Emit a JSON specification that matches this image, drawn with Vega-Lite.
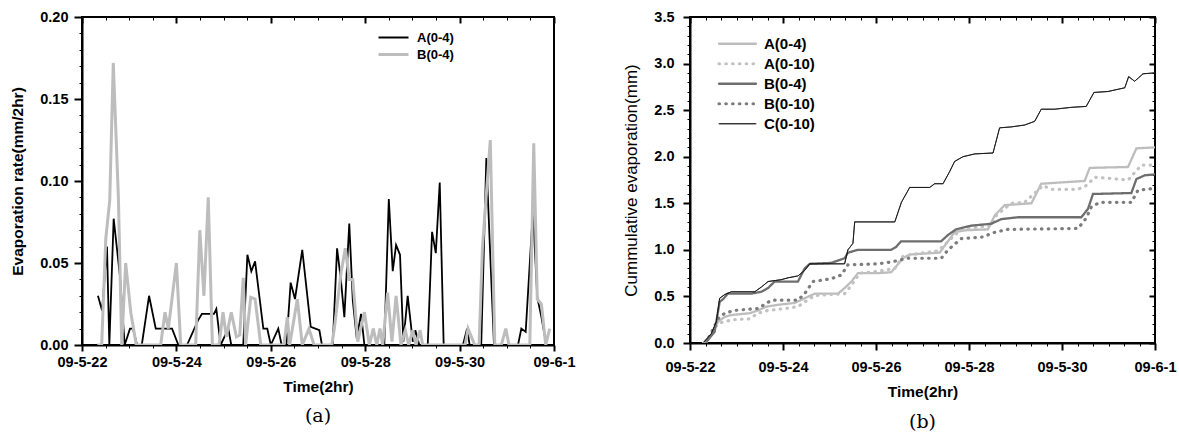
{
  "$schema": "https://vega.github.io/schema/vega-lite/v6.json",
  "background": "white",
  "padding": {"left": 9, "top": 8, "right": 0, "bottom": 0},
  "spacing": 45,
  "resolve": {"scale": {"color": "independent", "strokeWidth": "independent", "strokeDash": "independent", "x": "independent", "y": "independent"}, "legend": {"color": "independent", "strokeWidth": "independent", "strokeDash": "independent"}},
  "datasets": {
    "rate": [
      {"s":"A(0-4)","t":8.1,"v":0.030},{"s":"A(0-4)","t":10.2,"v":0.021},{"s":"A(0-4)","t":12.7,"v":0.060},{"s":"A(0-4)","t":13.9,"v":0},{"s":"A(0-4)","t":16.1,"v":0.077},{"s":"A(0-4)","t":19.3,"v":0.042},{"s":"A(0-4)","t":21.7,"v":0},{"s":"A(0-4)","t":24.4,"v":0.01},{"s":"A(0-4)","t":25.9,"v":0.01},{"s":"A(0-4)","t":28.0,"v":0},{"s":"A(0-4)","t":30.4,"v":0},{"s":"A(0-4)","t":34.1,"v":0.03},{"s":"A(0-4)","t":37.5,"v":0.01},{"s":"A(0-4)","t":45.8,"v":0.01},{"s":"A(0-4)","t":49.0,"v":0},{"s":"A(0-4)","t":53.4,"v":0},{"s":"A(0-4)","t":59.0,"v":0.015},{"s":"A(0-4)","t":61.0,"v":0.019},{"s":"A(0-4)","t":67.1,"v":0.019},{"s":"A(0-4)","t":68.3,"v":0.022},{"s":"A(0-4)","t":70.5,"v":0},{"s":"A(0-4)","t":74.4,"v":0.01},{"s":"A(0-4)","t":75.9,"v":0},{"s":"A(0-4)","t":82.0,"v":0},{"s":"A(0-4)","t":84.1,"v":0.055},{"s":"A(0-4)","t":86.1,"v":0.045},{"s":"A(0-4)","t":88.0,"v":0.051},{"s":"A(0-4)","t":92.2,"v":0.01},{"s":"A(0-4)","t":94.2,"v":0.01},{"s":"A(0-4)","t":96.0,"v":0},{"s":"A(0-4)","t":99.8,"v":0.01},{"s":"A(0-4)","t":101.5,"v":0},{"s":"A(0-4)","t":103.9,"v":0},{"s":"A(0-4)","t":106.1,"v":0.038},{"s":"A(0-4)","t":108.3,"v":0.028},{"s":"A(0-4)","t":112.0,"v":0.058},{"s":"A(0-4)","t":116.3,"v":0.011},{"s":"A(0-4)","t":120.7,"v":0.009},{"s":"A(0-4)","t":122.0,"v":0},{"s":"A(0-4)","t":127.5,"v":0},{"s":"A(0-4)","t":129.7,"v":0.059},{"s":"A(0-4)","t":131.7,"v":0.039},{"s":"A(0-4)","t":133.4,"v":0.017},{"s":"A(0-4)","t":135.9,"v":0.074},{"s":"A(0-4)","t":137.7,"v":0.027},{"s":"A(0-4)","t":139.7,"v":0.004},{"s":"A(0-4)","t":141.9,"v":0.019},{"s":"A(0-4)","t":143.6,"v":0},{"s":"A(0-4)","t":153.7,"v":0},{"s":"A(0-4)","t":156.0,"v":0.089},{"s":"A(0-4)","t":158.0,"v":0.045},{"s":"A(0-4)","t":159.7,"v":0.061},{"s":"A(0-4)","t":161.7,"v":0.055},{"s":"A(0-4)","t":163.4,"v":0.002},{"s":"A(0-4)","t":165.6,"v":0.03},{"s":"A(0-4)","t":168.2,"v":0.002},{"s":"A(0-4)","t":169.5,"v":0.009},{"s":"A(0-4)","t":171.5,"v":0},{"s":"A(0-4)","t":175.8,"v":0},{"s":"A(0-4)","t":178.0,"v":0.069},{"s":"A(0-4)","t":179.9,"v":0.056},{"s":"A(0-4)","t":181.9,"v":0.099},{"s":"A(0-4)","t":183.9,"v":0},{"s":"A(0-4)","t":193.7,"v":0},{"s":"A(0-4)","t":195.8,"v":0.01},{"s":"A(0-4)","t":197.1,"v":0},{"s":"A(0-4)","t":203.0,"v":0},{"s":"A(0-4)","t":205.6,"v":0.114},{"s":"A(0-4)","t":207.3,"v":0.063},{"s":"A(0-4)","t":209.5,"v":0},{"s":"A(0-4)","t":221.7,"v":0},{"s":"A(0-4)","t":223.4,"v":0.01},{"s":"A(0-4)","t":225.6,"v":0.008},{"s":"A(0-4)","t":229.3,"v":0.082},{"s":"A(0-4)","t":231.5,"v":0.029},{"s":"A(0-4)","t":233.6,"v":0.017},{"s":"A(0-4)","t":236.1,"v":0},
      {"s":"B(0-4)","t":7.8,"v":0},{"s":"B(0-4)","t":10.0,"v":0},{"s":"B(0-4)","t":12.1,"v":0.065},{"s":"B(0-4)","t":14.1,"v":0.088},{"s":"B(0-4)","t":15.9,"v":0.172},{"s":"B(0-4)","t":18.5,"v":0.09},{"s":"B(0-4)","t":20.2,"v":0},{"s":"B(0-4)","t":22.2,"v":0.05},{"s":"B(0-4)","t":24.8,"v":0.02},{"s":"B(0-4)","t":27.6,"v":0},{"s":"B(0-4)","t":40.0,"v":0},{"s":"B(0-4)","t":42.2,"v":0.02},{"s":"B(0-4)","t":43.9,"v":0.01},{"s":"B(0-4)","t":48.0,"v":0.05},{"s":"B(0-4)","t":50.2,"v":0},{"s":"B(0-4)","t":57.8,"v":0},{"s":"B(0-4)","t":59.9,"v":0.07},{"s":"B(0-4)","t":62.0,"v":0.03},{"s":"B(0-4)","t":64.2,"v":0.09},{"s":"B(0-4)","t":66.3,"v":0},{"s":"B(0-4)","t":69.7,"v":0},{"s":"B(0-4)","t":71.7,"v":0.02},{"s":"B(0-4)","t":73.4,"v":0.005},{"s":"B(0-4)","t":75.9,"v":0.02},{"s":"B(0-4)","t":78.5,"v":0.005},{"s":"B(0-4)","t":80.2,"v":0.006},{"s":"B(0-4)","t":82.0,"v":0.041},{"s":"B(0-4)","t":83.2,"v":0},{"s":"B(0-4)","t":85.8,"v":0.029},{"s":"B(0-4)","t":88.0,"v":0.028},{"s":"B(0-4)","t":90.9,"v":0},{"s":"B(0-4)","t":102.7,"v":0},{"s":"B(0-4)","t":104.4,"v":0.017},{"s":"B(0-4)","t":105.6,"v":0},{"s":"B(0-4)","t":109.5,"v":0.028},{"s":"B(0-4)","t":112.0,"v":0},{"s":"B(0-4)","t":115.4,"v":0.01},{"s":"B(0-4)","t":118.0,"v":0},{"s":"B(0-4)","t":127.0,"v":0},{"s":"B(0-4)","t":128.3,"v":0.01},{"s":"B(0-4)","t":131.7,"v":0.044},{"s":"B(0-4)","t":133.9,"v":0.059},{"s":"B(0-4)","t":135.9,"v":0.04},{"s":"B(0-4)","t":137.7,"v":0.04},{"s":"B(0-4)","t":140.2,"v":0.002},{"s":"B(0-4)","t":143.6,"v":0.02},{"s":"B(0-4)","t":146.1,"v":0},{"s":"B(0-4)","t":148.1,"v":0.01},{"s":"B(0-4)","t":149.9,"v":0},{"s":"B(0-4)","t":151.5,"v":0.01},{"s":"B(0-4)","t":152.9,"v":0},{"s":"B(0-4)","t":155.4,"v":0.032},{"s":"B(0-4)","t":157.6,"v":0.002},{"s":"B(0-4)","t":159.7,"v":0.03},{"s":"B(0-4)","t":162.2,"v":0},{"s":"B(0-4)","t":164.4,"v":0.009},{"s":"B(0-4)","t":166.1,"v":0},{"s":"B(0-4)","t":168.2,"v":0.009},{"s":"B(0-4)","t":169.8,"v":0},{"s":"B(0-4)","t":171.9,"v":0.009},{"s":"B(0-4)","t":173.2,"v":0},{"s":"B(0-4)","t":194.8,"v":0},{"s":"B(0-4)","t":196.3,"v":0.01},{"s":"B(0-4)","t":199.7,"v":0},{"s":"B(0-4)","t":201.9,"v":0},{"s":"B(0-4)","t":203.6,"v":0.059},{"s":"B(0-4)","t":207.6,"v":0.125},{"s":"B(0-4)","t":209.9,"v":0},{"s":"B(0-4)","t":213.2,"v":0},{"s":"B(0-4)","t":215.5,"v":0.01},{"s":"B(0-4)","t":217.1,"v":0},{"s":"B(0-4)","t":227.7,"v":0},{"s":"B(0-4)","t":229.7,"v":0.123},{"s":"B(0-4)","t":231.5,"v":0.028},{"s":"B(0-4)","t":233.6,"v":0.025},{"s":"B(0-4)","t":235.8,"v":0},{"s":"B(0-4)","t":237.8,"v":0.01}
    ],
    "cum": [
      {"s":"A(0-4)","t":6.7,"v":0},{"s":"A(0-4)","t":11.0,"v":0.09},{"s":"A(0-4)","t":14.5,"v":0.23},{"s":"A(0-4)","t":17.9,"v":0.28},{"s":"A(0-4)","t":21.3,"v":0.30},{"s":"A(0-4)","t":30.8,"v":0.32},{"s":"A(0-4)","t":35.1,"v":0.35},{"s":"A(0-4)","t":39.4,"v":0.39},{"s":"A(0-4)","t":45.4,"v":0.41},{"s":"A(0-4)","t":54.0,"v":0.43},{"s":"A(0-4)","t":59.2,"v":0.48},{"s":"A(0-4)","t":64.4,"v":0.53},{"s":"A(0-4)","t":76.4,"v":0.53},{"s":"A(0-4)","t":79.8,"v":0.59},{"s":"A(0-4)","t":83.3,"v":0.66},{"s":"A(0-4)","t":86.7,"v":0.75},{"s":"A(0-4)","t":97.0,"v":0.75},{"s":"A(0-4)","t":103.9,"v":0.76},{"s":"A(0-4)","t":109.9,"v":0.91},{"s":"A(0-4)","t":113.4,"v":0.95},{"s":"A(0-4)","t":128.9,"v":0.97},{"s":"A(0-4)","t":132.3,"v":1.07},{"s":"A(0-4)","t":136.6,"v":1.19},{"s":"A(0-4)","t":141.8,"v":1.21},{"s":"A(0-4)","t":153.8,"v":1.22},{"s":"A(0-4)","t":157.3,"v":1.37},{"s":"A(0-4)","t":162.4,"v":1.48},{"s":"A(0-4)","t":176.2,"v":1.50},{"s":"A(0-4)","t":181.3,"v":1.71},{"s":"A(0-4)","t":203.7,"v":1.74},{"s":"A(0-4)","t":206.3,"v":1.88},{"s":"A(0-4)","t":226.1,"v":1.89},{"s":"A(0-4)","t":230.4,"v":2.09},{"s":"A(0-4)","t":239.8,"v":2.10},
      {"s":"A(0-10)","t":7.6,"v":0},{"s":"A(0-10)","t":14.5,"v":0.21},{"s":"A(0-10)","t":17.9,"v":0.23},{"s":"A(0-10)","t":22.2,"v":0.25},{"s":"A(0-10)","t":30.8,"v":0.26},{"s":"A(0-10)","t":35.1,"v":0.32},{"s":"A(0-10)","t":40.3,"v":0.35},{"s":"A(0-10)","t":48.9,"v":0.37},{"s":"A(0-10)","t":55.7,"v":0.39},{"s":"A(0-10)","t":59.2,"v":0.44},{"s":"A(0-10)","t":64.4,"v":0.51},{"s":"A(0-10)","t":79.8,"v":0.53},{"s":"A(0-10)","t":83.3,"v":0.62},{"s":"A(0-10)","t":87.6,"v":0.75},{"s":"A(0-10)","t":93.6,"v":0.76},{"s":"A(0-10)","t":105.7,"v":0.80},{"s":"A(0-10)","t":109.9,"v":0.93},{"s":"A(0-10)","t":117.7,"v":0.96},{"s":"A(0-10)","t":128.0,"v":0.99},{"s":"A(0-10)","t":133.2,"v":1.09},{"s":"A(0-10)","t":138.3,"v":1.19},{"s":"A(0-10)","t":143.5,"v":1.23},{"s":"A(0-10)","t":155.5,"v":1.26},{"s":"A(0-10)","t":158.1,"v":1.37},{"s":"A(0-10)","t":165.8,"v":1.50},{"s":"A(0-10)","t":172.7,"v":1.51},{"s":"A(0-10)","t":182.2,"v":1.69},{"s":"A(0-10)","t":186.5,"v":1.65},{"s":"A(0-10)","t":200.3,"v":1.65},{"s":"A(0-10)","t":204.5,"v":1.69},{"s":"A(0-10)","t":208.9,"v":1.78},{"s":"A(0-10)","t":226.1,"v":1.75},{"s":"A(0-10)","t":230.4,"v":1.85},{"s":"A(0-10)","t":233.0,"v":1.91},{"s":"A(0-10)","t":239.8,"v":1.91},
      {"s":"B(0-4)","t":8.4,"v":0.01},{"s":"B(0-4)","t":12.7,"v":0.12},{"s":"B(0-4)","t":15.3,"v":0.44},{"s":"B(0-4)","t":17.5,"v":0.48},{"s":"B(0-4)","t":19.6,"v":0.53},{"s":"B(0-4)","t":31.6,"v":0.53},{"s":"B(0-4)","t":36.8,"v":0.55},{"s":"B(0-4)","t":40.3,"v":0.59},{"s":"B(0-4)","t":43.7,"v":0.66},{"s":"B(0-4)","t":55.7,"v":0.66},{"s":"B(0-4)","t":59.2,"v":0.80},{"s":"B(0-4)","t":61.8,"v":0.85},{"s":"B(0-4)","t":72.9,"v":0.86},{"s":"B(0-4)","t":79.8,"v":0.91},{"s":"B(0-4)","t":81.5,"v":0.97},{"s":"B(0-4)","t":86.7,"v":1.0},{"s":"B(0-4)","t":103.7,"v":1.0},{"s":"B(0-4)","t":106.3,"v":1.03},{"s":"B(0-4)","t":108.9,"v":1.09},{"s":"B(0-4)","t":129.5,"v":1.09},{"s":"B(0-4)","t":133.2,"v":1.16},{"s":"B(0-4)","t":137.3,"v":1.22},{"s":"B(0-4)","t":145.2,"v":1.26},{"s":"B(0-4)","t":155.5,"v":1.28},{"s":"B(0-4)","t":160.7,"v":1.33},{"s":"B(0-4)","t":169.3,"v":1.35},{"s":"B(0-4)","t":202.0,"v":1.35},{"s":"B(0-4)","t":205.4,"v":1.44},{"s":"B(0-4)","t":208.0,"v":1.60},{"s":"B(0-4)","t":227.8,"v":1.61},{"s":"B(0-4)","t":230.4,"v":1.76},{"s":"B(0-4)","t":234.7,"v":1.80},{"s":"B(0-4)","t":239.8,"v":1.81},
      {"s":"B(0-10)","t":8.4,"v":0},{"s":"B(0-10)","t":14.5,"v":0.26},{"s":"B(0-10)","t":17.9,"v":0.32},{"s":"B(0-10)","t":23.1,"v":0.35},{"s":"B(0-10)","t":35.1,"v":0.37},{"s":"B(0-10)","t":42.0,"v":0.46},{"s":"B(0-10)","t":55.7,"v":0.46},{"s":"B(0-10)","t":59.2,"v":0.53},{"s":"B(0-10)","t":63.5,"v":0.66},{"s":"B(0-10)","t":72.9,"v":0.69},{"s":"B(0-10)","t":78.1,"v":0.73},{"s":"B(0-10)","t":81.5,"v":0.84},{"s":"B(0-10)","t":97.0,"v":0.85},{"s":"B(0-10)","t":103.9,"v":0.87},{"s":"B(0-10)","t":112.5,"v":0.91},{"s":"B(0-10)","t":129.7,"v":0.91},{"s":"B(0-10)","t":133.2,"v":1.0},{"s":"B(0-10)","t":140.0,"v":1.12},{"s":"B(0-10)","t":152.1,"v":1.14},{"s":"B(0-10)","t":155.5,"v":1.18},{"s":"B(0-10)","t":164.1,"v":1.22},{"s":"B(0-10)","t":200.3,"v":1.23},{"s":"B(0-10)","t":204.5,"v":1.34},{"s":"B(0-10)","t":207.1,"v":1.46},{"s":"B(0-10)","t":211.5,"v":1.51},{"s":"B(0-10)","t":227.8,"v":1.51},{"s":"B(0-10)","t":231.2,"v":1.64},{"s":"B(0-10)","t":239.8,"v":1.66},
      {"s":"C(0-10)","t":7.2,"v":0.01},{"s":"C(0-10)","t":11.0,"v":0.10},{"s":"C(0-10)","t":13.6,"v":0.23},{"s":"C(0-10)","t":15.3,"v":0.48},{"s":"C(0-10)","t":17.9,"v":0.52},{"s":"C(0-10)","t":21.3,"v":0.55},{"s":"C(0-10)","t":33.4,"v":0.55},{"s":"C(0-10)","t":36.8,"v":0.60},{"s":"C(0-10)","t":40.3,"v":0.66},{"s":"C(0-10)","t":47.1,"v":0.68},{"s":"C(0-10)","t":50.6,"v":0.70},{"s":"C(0-10)","t":55.7,"v":0.72},{"s":"C(0-10)","t":59.2,"v":0.78},{"s":"C(0-10)","t":61.8,"v":0.85},{"s":"C(0-10)","t":79.8,"v":0.85},{"s":"C(0-10)","t":81.5,"v":1.0},{"s":"C(0-10)","t":84.1,"v":1.07},{"s":"C(0-10)","t":85.0,"v":1.30},{"s":"C(0-10)","t":105.7,"v":1.30},{"s":"C(0-10)","t":109.1,"v":1.51},{"s":"C(0-10)","t":113.4,"v":1.67},{"s":"C(0-10)","t":123.7,"v":1.67},{"s":"C(0-10)","t":126.3,"v":1.71},{"s":"C(0-10)","t":130.6,"v":1.71},{"s":"C(0-10)","t":134.0,"v":1.84},{"s":"C(0-10)","t":136.6,"v":1.95},{"s":"C(0-10)","t":140.9,"v":2.0},{"s":"C(0-10)","t":146.9,"v":2.03},{"s":"C(0-10)","t":156.4,"v":2.04},{"s":"C(0-10)","t":159.8,"v":2.31},{"s":"C(0-10)","t":165.8,"v":2.32},{"s":"C(0-10)","t":172.7,"v":2.34},{"s":"C(0-10)","t":177.9,"v":2.38},{"s":"C(0-10)","t":181.3,"v":2.51},{"s":"C(0-10)","t":188.2,"v":2.51},{"s":"C(0-10)","t":196.8,"v":2.53},{"s":"C(0-10)","t":204.5,"v":2.54},{"s":"C(0-10)","t":208.5,"v":2.69},{"s":"C(0-10)","t":215.7,"v":2.70},{"s":"C(0-10)","t":224.4,"v":2.74},{"s":"C(0-10)","t":226.4,"v":2.86},{"s":"C(0-10)","t":229.5,"v":2.81},{"s":"C(0-10)","t":233.8,"v":2.89},{"s":"C(0-10)","t":239.8,"v":2.90}
    ]
  },
  "hconcat": [
    {
      "width": 472,
      "height": 328,
      "data": {"name": "rate"},
      "title": {"text": "(a)", "orient": "bottom", "font": "DejaVu Serif", "fontSize": 19, "fontWeight": "normal", "color": "#000", "offset": 12},
      "layer": [
        {
          "mark": {"type": "line", "clip": true},
          "encoding": {
            "x": {"field": "t", "type": "quantitative", "scale": {"domain": [0, 240], "nice": false, "zero": false},
              "axis": {"title": "Time(2hr)", "titleFontSize": 15.5, "titleFontWeight": "bold", "titlePadding": 11,
                "values": [0,12,24,36,48,60,72,84,96,108,120,132,144,156,168,180,192,204,216,228,240],
                "labelExpr": "datum.value % 48 === 0 ? (datum.value === 240 ? '09-6-1' : '09-5-' + (22 + datum.value/24)) : ''",
                "labelFontSize": 14.5, "labelPadding": 4, "domainWidth": 2,
                "tickSize": {"condition": {"test": "datum.value % 48 === 0", "value": 6}, "value": 3},
                "tickWidth": {"condition": {"test": "datum.value % 48 === 0", "value": 2}, "value": 1}}},
            "y": {"field": "v", "type": "quantitative", "scale": {"domain": [0, 0.2], "nice": false},
              "axis": {"title": "Evaporation rate(mm/2hr)", "titleFontSize": 15.5, "titleFontWeight": "bold", "titlePadding": 14,
                "values": [0,0.01,0.02,0.03,0.04,0.05,0.06,0.07,0.08,0.09,0.1,0.11,0.12,0.13,0.14,0.15,0.16,0.17,0.18,0.19,0.2],
                "labelExpr": "abs(datum.value/0.05 - round(datum.value/0.05)) < 0.001 ? format(datum.value, '.2f') : ''",
                "labelFontSize": 14.5, "labelPadding": 6, "domainWidth": 2,
                "tickSize": {"condition": {"test": "abs(datum.value/0.05 - round(datum.value/0.05)) < 0.001", "value": 8}, "value": 3},
                "tickWidth": {"condition": {"test": "abs(datum.value/0.05 - round(datum.value/0.05)) < 0.001", "value": 2}, "value": 1}}},
            "color": {"field": "s", "type": "nominal", "scale": {"domain": ["A(0-4)", "B(0-4)"], "range": ["#000000", "#bdbdbd"]},
              "legend": {"title": null, "orient": "none", "legendX": 295, "legendY": 12, "labelFontSize": 13, "labelFontWeight": "bold", "labelFont": "Liberation Sans", "labelColor": "#000", "symbolType": "stroke", "symbolSize": 900, "symbolStrokeWidth": 2.5, "labelOffset": 7, "padding": 0, "rowPadding": 0, "clipHeight": 17,
                "encode": {"symbols": {"update": {"strokeWidth": {"signal": "datum.value === 'A(0-4)' ? 2 : 3"}}}}}},
            "strokeWidth": {"field": "s", "type": "nominal", "scale": {"type": "ordinal", "domain": ["A(0-4)", "B(0-4)"], "range": [1.8, 3]}, "legend": null}
          }
        },
        {
          "mark": {"type": "line", "opacity": 0},
          "encoding": {
            "x": {"field": "t", "type": "quantitative", "scale": {"domain": [0, 240], "nice": false, "zero": false},
              "axis": {"orient": "top", "title": null, "labels": false, "domain": false,
                "values": [0,12,24,36,48,60,72,84,96,108,120,132,144,156,168,180,192,204,216,228,240],
                "tickSize": {"condition": {"test": "datum.value % 48 === 0", "value": -6}, "value": -3},
                "tickWidth": {"condition": {"test": "datum.value % 48 === 0", "value": 2}, "value": 1}}},
            "y": {"field": "v", "type": "quantitative", "axis": null}
          }
        }
      ],
      "resolve": {"axis": {"x": "independent", "y": "independent"}}
    },
    {
      "width": 465,
      "height": 326,
      "data": {"name": "cum"},
      "title": {"text": "(b)", "orient": "bottom", "font": "DejaVu Serif", "fontSize": 19, "fontWeight": "normal", "color": "#000", "offset": 13},
      "layer": [
        {
          "mark": {"type": "line", "clip": true, "strokeCap": "round"},
          "encoding": {
            "x": {"field": "t", "type": "quantitative", "scale": {"domain": [0, 240], "nice": false, "zero": false},
              "axis": {"title": "Time(2hr)", "titleFontSize": 15.5, "titleFontWeight": "bold", "titlePadding": 11,
                "values": [0,8,16,24,32,40,48,56,64,72,80,88,96,104,112,120,128,136,144,152,160,168,176,184,192,200,208,216,224,232,240],
                "labelExpr": "datum.value % 48 === 0 ? (datum.value === 240 ? '09-6-1' : '09-5-' + (22 + datum.value/24)) : ''",
                "labelFontSize": 14.5, "labelPadding": 10, "domainWidth": 2,
                "tickSize": {"condition": {"test": "datum.value % 48 === 0", "value": 7}, "value": 3},
                "tickWidth": {"condition": {"test": "datum.value % 48 === 0", "value": 2}, "value": 1}}},
            "y": {"field": "v", "type": "quantitative", "scale": {"domain": [0, 3.5], "nice": false},
              "axis": {"title": "Cummulative evaporation(mm)", "titleFontSize": 17, "titleFontWeight": "normal", "titlePadding": 13,
                "values": [0,0.1,0.2,0.3,0.4,0.5,0.6,0.7,0.8,0.9,1,1.1,1.2,1.3,1.4,1.5,1.6,1.7,1.8,1.9,2,2.1,2.2,2.3,2.4,2.5,2.6,2.7,2.8,2.9,3,3.1,3.2,3.3,3.4,3.5],
                "labelExpr": "abs(datum.value/0.5 - round(datum.value/0.5)) < 0.001 ? format(datum.value, '.1f') : ''",
                "labelFontSize": 14.5, "labelPadding": 9, "domainWidth": 2,
                "tickSize": {"condition": {"test": "abs(datum.value/0.5 - round(datum.value/0.5)) < 0.001", "value": 7}, "value": 3},
                "tickWidth": {"condition": {"test": "abs(datum.value/0.5 - round(datum.value/0.5)) < 0.001", "value": 2}, "value": 1}}},
            "color": {"field": "s", "type": "nominal",
              "scale": {"domain": ["A(0-4)", "A(0-10)", "B(0-4)", "B(0-10)", "C(0-10)"], "range": ["#bdbdbd", "#c2c2c2", "#6e6e6e", "#7c7c7c", "#1a1a1a"]},
              "legend": {"title": null, "orient": "none", "legendX": 27, "legendY": 17, "labelFontSize": 15, "labelFontWeight": "bold", "labelFont": "Liberation Sans", "labelColor": "#000", "symbolType": "stroke", "symbolSize": 1369, "labelOffset": 6, "padding": 0, "rowPadding": 0, "clipHeight": 19.5,
                "encode": {"symbols": {"update": {"strokeWidth": {"signal": "datum.value === 'C(0-10)' ? 1 : (datum.value === 'A(0-4)' || datum.value === 'B(0-4)') ? 2.3 : 3.2"}, "strokeDash": {"signal": "(datum.value === 'A(0-10)' || datum.value === 'B(0-10)') ? [0.5, 6.3] : [1, 0]"}, "strokeCap": {"value": "round"}}}}}},
            "strokeDash": {"field": "s", "type": "nominal", "legend": null,
              "scale": {"domain": ["A(0-4)", "A(0-10)", "B(0-4)", "B(0-10)", "C(0-10)"], "range": [[1, 0], [0.5, 6.3], [1, 0], [0.5, 6.3], [1, 0]]}},
            "strokeWidth": {"field": "s", "type": "nominal",
              "scale": {"type": "ordinal", "domain": ["A(0-4)", "A(0-10)", "B(0-4)", "B(0-10)", "C(0-10)"], "range": [2.3, 3.2, 2.3, 3.2, 1]}, "legend": null}
          }
        },
        {
          "mark": {"type": "line", "opacity": 0},
          "encoding": {
            "x": {"field": "t", "type": "quantitative", "scale": {"domain": [0, 240], "nice": false, "zero": false},
              "axis": {"orient": "top", "title": null, "labels": false, "domain": false,
                "values": [0,8,16,24,32,40,48,56,64,72,80,88,96,104,112,120,128,136,144,152,160,168,176,184,192,200,208,216,224,232,240],
                "tickSize": {"condition": {"test": "datum.value % 48 === 0", "value": -6}, "value": -3},
                "tickWidth": {"condition": {"test": "datum.value % 48 === 0", "value": 2}, "value": 1}}},
            "y": {"field": "v", "type": "quantitative", "axis": null}
          }
        },
        {
          "mark": {"type": "line", "opacity": 0},
          "encoding": {
            "x": {"field": "t", "type": "quantitative", "axis": null},
            "y": {"field": "v", "type": "quantitative",
              "axis": {"orient": "right", "title": null, "labels": false, "domain": false,
                "values": [0,0.1,0.2,0.3,0.4,0.5,0.6,0.7,0.8,0.9,1,1.1,1.2,1.3,1.4,1.5,1.6,1.7,1.8,1.9,2,2.1,2.2,2.3,2.4,2.5,2.6,2.7,2.8,2.9,3,3.1,3.2,3.3,3.4,3.5],
                "tickSize": {"condition": {"test": "abs(datum.value/0.5 - round(datum.value/0.5)) < 0.001", "value": -6}, "value": -3},
                "tickWidth": {"condition": {"test": "abs(datum.value/0.5 - round(datum.value/0.5)) < 0.001", "value": 2}, "value": 1}}}
          }
        }
      ],
      "resolve": {"axis": {"x": "independent", "y": "independent"}}
    }
  ],
  "config": {
    "font": "Liberation Sans",
    "view": {"stroke": "#000", "strokeWidth": 2},
    "axis": {"labelFont": "Liberation Sans", "labelFontWeight": "bold", "labelColor": "#000", "titleFont": "Liberation Sans", "titleColor": "#000", "domainColor": "#000", "tickColor": "#000", "grid": false, "labelOverlap": false, "labelFlush": false},
    "legend": {"labelLimit": 300}
  }
}
